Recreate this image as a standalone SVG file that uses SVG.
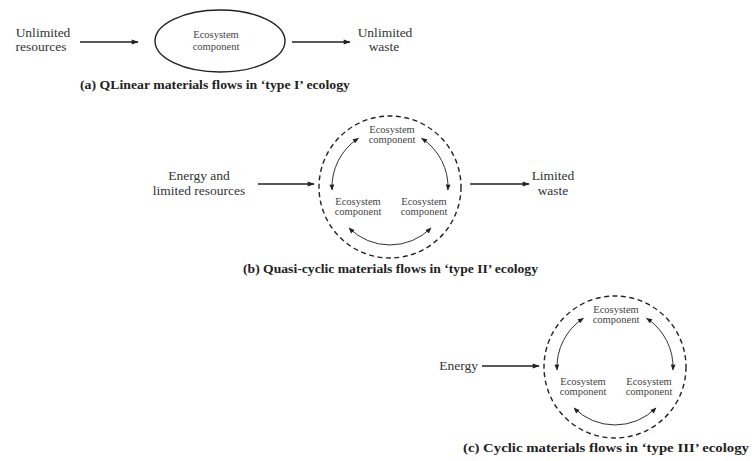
<svg xmlns="http://www.w3.org/2000/svg" width="752" height="461" viewBox="0 0 752 461">
<defs>
<marker id="ah" viewBox="0 0 10 10" refX="9" refY="5" markerWidth="9" markerHeight="7" markerUnits="userSpaceOnUse" orient="auto-start-reverse">
<path d="M0,1.5 L10,5 L0,8.5 z" fill="#222"/>
</marker>
<marker id="ahs" viewBox="0 0 10 10" refX="9" refY="5" markerWidth="8" markerHeight="6" markerUnits="userSpaceOnUse" orient="auto-start-reverse">
<path d="M0,1 L10,5 L0,9 z" fill="#222"/>
</marker>
</defs>
<style>
.lbl{font-family:"Liberation Serif","Times New Roman",serif;font-size:13.5px;fill:#333;text-anchor:middle}
.sm{font-family:"Liberation Serif","Times New Roman",serif;font-size:10.5px;fill:#444;text-anchor:middle}
.cap{font-family:"Liberation Serif","Times New Roman",serif;font-size:13px;font-weight:bold;fill:#222}
.ln{stroke:#222;stroke-width:1.5;fill:none;marker-end:url(#ah)}
.arc{stroke:#333;stroke-width:1;fill:none;marker-start:url(#ahs);marker-end:url(#ahs)}
.dash{stroke:#222;stroke-width:1.4;fill:none;stroke-dasharray:5 3.5}
.ell{stroke:#222;stroke-width:1.4;fill:none}
</style>
<rect width="752" height="461" fill="#fff"/>

<!-- Part (a) -->
<g id="a-input">
<text class="lbl" x="43" y="37">Unlimited</text>
<text class="lbl" x="41" y="51">resources</text>
</g>
<g id="a-component">
<ellipse class="ell" cx="220" cy="41" rx="65" ry="31"/>
<text class="sm" x="216" y="38">Ecosystem</text>
<text class="sm" x="216" y="50">component</text>
</g>
<g id="a-output">
<text class="lbl" x="385" y="37">Unlimited</text>
<text class="lbl" x="384" y="51">waste</text>
</g>
<text id="cap-a" class="cap" x="80" y="89" textLength="270" lengthAdjust="spacingAndGlyphs">(a) QLinear materials flows in ‘type I’ ecology</text>

<!-- Part (b) -->
<g id="b-input">
<text class="lbl" x="199" y="180">Energy and</text>
<text class="lbl" x="199" y="195">limited resources</text>
</g>
<g id="b-system">
<circle class="dash" cx="390" cy="187" r="71"/>
</g>
<g id="b-top">
<text class="sm" x="392" y="133">Ecosystem</text>
<text class="sm" x="392" y="143">component</text>
</g>
<g id="b-left">
<text class="sm" x="358" y="205">Ecosystem</text>
<text class="sm" x="358" y="215">component</text>
</g>
<g id="b-right">
<text class="sm" x="424" y="205">Ecosystem</text>
<text class="sm" x="424" y="215">component</text>
</g>
<g id="b-output">
<text class="lbl" x="553" y="180">Limited</text>
<text class="lbl" x="553" y="195">waste</text>
</g>
<text id="cap-b" class="cap" x="243" y="273" textLength="295" lengthAdjust="spacingAndGlyphs">(b) Quasi-cyclic materials flows in ‘type II’ ecology</text>

<!-- Part (c) -->
<g id="c-input">
<text class="lbl" x="478" y="370" style="text-anchor:end">Energy</text>
</g>
<g id="c-system">
<circle class="dash" cx="615" cy="367" r="71"/>
</g>
<g id="c-top">
<text class="sm" x="616" y="313">Ecosystem</text>
<text class="sm" x="616" y="323">component</text>
</g>
<g id="c-left">
<text class="sm" x="583" y="385">Ecosystem</text>
<text class="sm" x="583" y="395">component</text>
</g>
<g id="c-right">
<text class="sm" x="649" y="385">Ecosystem</text>
<text class="sm" x="649" y="395">component</text>
</g>
<text id="cap-c" class="cap" x="463" y="452" textLength="286" lengthAdjust="spacingAndGlyphs">(c) Cyclic materials flows in ‘type III’ ecology</text>

<!-- Connectors -->
<g id="connectors">
<line class="ln" x1="80" y1="42" x2="138" y2="42"/>
<line class="ln" x1="292" y1="42" x2="350" y2="42"/>
<line class="ln" x1="258" y1="184" x2="314" y2="184"/>
<line class="ln" x1="470" y1="184" x2="529" y2="184"/>
<line class="ln" x1="482" y1="366" x2="539" y2="366"/>
<path class="arc" d="M332.1,190 A58,58 0 0 1 358.4,138.3"/>
<path class="arc" d="M421.6,138.3 A58,58 0 0 1 447.9,190"/>
<path class="arc" d="M431,228 A58,58 0 0 1 349,228"/>
<path class="arc" d="M557.1,370 A58,58 0 0 1 583.4,318.3"/>
<path class="arc" d="M646.6,318.3 A58,58 0 0 1 672.9,370"/>
<path class="arc" d="M656,408 A58,58 0 0 1 574,408"/>
</g>
</svg>
